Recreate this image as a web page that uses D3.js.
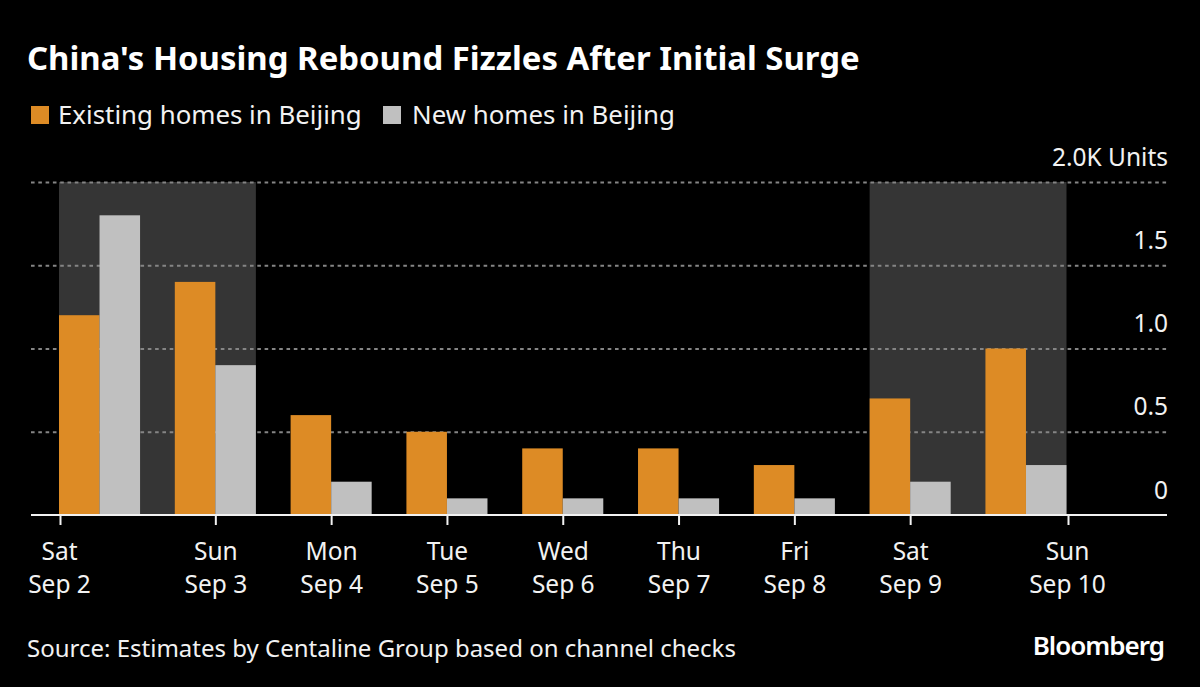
<!DOCTYPE html>
<html>
<head>
<meta charset="utf-8">
<script src="https://cdn.jsdelivr.net/npm/d3@7"></script>
<style>
html, body { margin: 0; padding: 0; background: #000; }
svg { display: block; }
text { font-family: "Noto Sans", sans-serif; fill: #f2f2f2; }
</style>
</head>
<body>
<div id="chart"></div>
<script>
// Chart data.
const dayNames = ["Sat", "Sun", "Mon", "Tue", "Wed", "Thu", "Fri", "Sat", "Sun"];
const dayDates = ["Sep 2", "Sep 3", "Sep 4", "Sep 5", "Sep 6", "Sep 7", "Sep 8", "Sep 9", "Sep 10"];
const existingHomes = [1.2, 1.4, 0.6, 0.5, 0.4, 0.4, 0.3, 0.7, 1.0];
const newHomes = [1.8, 0.9, 0.2, 0.1, 0.1, 0.1, 0.1, 0.2, 0.3];
const weekends = [["Sep 2", "Sep 3"], ["Sep 9", "Sep 10"]];
const yTicks = [0, 0.5, 1.0, 1.5, 2.0];
const seriesNames = ["Existing homes in Beijing", "New homes in Beijing"];

const titleText = "China's Housing Rebound Fizzles After Initial Surge";
const sourceText = "Source: Estimates by Centaline Group based on channel checks";

const width = 1200,
    height = 687,
    plotLeft = 31,
    plotRight = 1167,
    plotTop = 182,
    plotBottom = 515,
    colors = [ "#dd8b25", "#c0c0c0" ];

const svg = d3.select( "#chart" ).append( "svg" )
    .attr( "width", width )
    .attr( "height", height );

svg.append( "rect" ).attr( "width", width ).attr( "height", height ).attr( "fill", "#000" );

// Scales.
const x = d3.scaleBand().domain( dayDates ).range([ 59, 1066.5 ]).paddingInner( 0.3 ).paddingOuter( 0 );
const y = d3.scaleLinear().domain([ 0, 2 ]).range([ plotBottom, plotTop ]);
const halfBar = x.bandwidth() / 2;

// Weekend shading.
svg.append( "g" )
    .selectAll( "rect" )
    .data( weekends )
    .join( "rect" )
    .attr( "x", d => x( d[ 0 ]))
    .attr( "y", plotTop )
    .attr( "width", d => x( d[ 1 ]) + x.bandwidth() - x( d[ 0 ]))
    .attr( "height", plotBottom - plotTop )
    .attr( "fill", "#353535" );

// Gridlines and value labels.
const yAxis = d3.axisRight( y )
    .tickValues( yTicks )
    .tickSize( plotRight - plotLeft )
    .tickFormat( d => d === 0 ? "0" : d === 2 ? "2.0K Units" : d3.format( ".1f" )( d ));
const yGroup = svg.append( "g" ).attr( "transform", `translate(${ plotLeft },0)` ).call( yAxis );
yGroup.attr( "font-family", null ).attr( "font-size", null );
yGroup.select( ".domain" ).remove();
yGroup.selectAll( ".tick line" )
    .attr( "stroke", d => d === 0 ? "none" : "#858585" )
    .attr( "stroke-width", 2 )
    .attr( "stroke-dasharray", "3.6 3.7" );
yGroup.selectAll( ".tick text" )
    .attr( "x", plotRight - plotLeft + 1 )
    .attr( "y", -17 )
    .attr( "dy", 0 )
    .attr( "text-anchor", "end" )
    .attr( "font-size", 24.5 );

// Bars.
[ existingHomes, newHomes ].forEach(( values, s ) => {
    svg.append( "g" )
        .selectAll( "rect" )
        .data( values )
        .join( "rect" )
        .attr( "x", ( d, i ) => x( dayDates[ i ]) + s * halfBar )
        .attr( "y", d => y( d ))
        .attr( "width", halfBar )
        .attr( "height", d => plotBottom - y( d ))
        .attr( "fill", colors[ s ]);
});

// Date axis: first and last tick sit at the outer edge of their bars.
const lastDay = dayDates.length - 1;
const tickPositions = dayDates.map(( d, i ) =>
    i === 0 ? x( d ) + 1 :
    i === lastDay ? x( d ) + x.bandwidth() + 1.5 :
    x( d ) + halfBar );
const xTicks = d3.scaleOrdinal().domain( dayDates ).range( tickPositions );
const xAxis = d3.axisBottom( xTicks ).tickSize( 10 ).tickSizeOuter( 0 ).tickFormat( "" );
const xGroup = svg.append( "g" ).attr( "transform", `translate(0,${ plotBottom })` ).call( xAxis );
xGroup.attr( "font-family", null ).attr( "font-size", null );
xGroup.select( ".domain" ).remove();
xGroup.selectAll( ".tick line" ).attr( "stroke", "#f2f2f2" ).attr( "stroke-width", 2 );
xGroup.selectAll( ".tick text" ).remove();
xGroup.selectAll( ".tick" ).each( function( d, i ) {
    const shift = i === 0 || i === lastDay ? -1 : 0;
    const label = d3.select( this ).append( "text" )
        .attr( "text-anchor", "middle" )
        .attr( "font-size", 24.5 );
    label.append( "tspan" ).attr( "x", shift ).attr( "y", 45 ).text( dayNames[ i ]);
    label.append( "tspan" ).attr( "x", shift ).attr( "y", 78 ).text( dayDates[ i ]);
});
svg.append( "line" )
    .attr( "x1", plotLeft ).attr( "x2", plotRight )
    .attr( "y1", plotBottom ).attr( "y2", plotBottom )
    .attr( "stroke", "#f2f2f2" ).attr( "stroke-width", 2 );

// Title, legend, footer.
svg.append( "text" )
    .attr( "x", 27 ).attr( "y", 70 )
    .attr( "font-size", 32.9 ).attr( "font-weight", 700 )
    .style( "fill", "#fff" )
    .text( titleText );

const legendX = [ 31, 383 ];
const legendTextX = [ 58, 412 ];
seriesNames.forEach(( name, s ) => {
    svg.append( "rect" )
        .attr( "x", legendX[ s ]).attr( "y", 106 )
        .attr( "width", 18 ).attr( "height", 18 )
        .attr( "fill", colors[ s ]);
    svg.append( "text" )
        .attr( "x", legendTextX[ s ]).attr( "y", 124 )
        .attr( "font-size", 25.85 )
        .text( name );
});

svg.append( "text" )
    .attr( "x", 27 ).attr( "y", 657 )
    .attr( "font-size", 24 )
    .text( sourceText );

svg.append( "text" )
    .attr( "x", 1164 ).attr( "y", 655 )
    .attr( "text-anchor", "end" )
    .attr( "font-size", 26 ).attr( "font-weight", 600 )
    .attr( "letter-spacing", -1 )
    .style( "fill", "#fff" )
    .text( "Bloomberg" );
</script>
</body>
</html>
